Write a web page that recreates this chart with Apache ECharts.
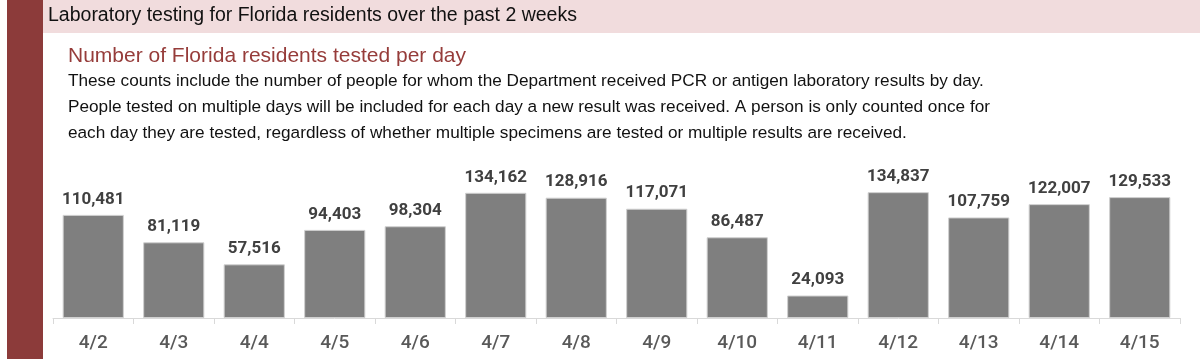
<!DOCTYPE html>
<html><head><meta charset="utf-8">
<script src="https://cdn.jsdelivr.net/npm/echarts@6/dist/echarts.min.js"></script>
<style>html,body{margin:0;padding:0;background:#fff}#c{width:1200px;height:359px}</style>
</head><body><div id="c"></div>
<script>
const categories = ['4/2','4/3','4/4','4/5','4/6','4/7','4/8','4/9','4/10','4/11','4/12','4/13','4/14','4/15'];
const tested = [110481,81119,57516,94403,98304,134162,128916,117071,86487,24093,134837,107759,122007,129533];
const headerText = 'Laboratory testing for Florida residents over the past 2 weeks';
const subtitleText = 'Number of Florida residents tested per day';
const descLines = [
  'These counts include the number of people for whom the Department received PCR or antigen laboratory results by day.',
  'People tested on multiple days will be included for each day a new result was received. A person is only counted once for',
  'each day they are tested, regardless of whether multiple specimens are tested or multiple results are received.'
];
const TXT = '"Liberation Sans",Arial,sans-serif';
const NUM = 'Roboto,"Liberation Sans",sans-serif';
const chart = echarts.init(document.getElementById('c'));
const graphics = [
  {type:'rect', shape:{x:7,y:0,width:36,height:359}, style:{fill:'#8c3b3a'}, z:-1},
  {type:'rect', shape:{x:43,y:0,width:1157,height:33}, style:{fill:'#f1dcdd'}, z:-1},
  {type:'text', left:48, top:6, style:{text:headerText, font:'19.5px '+TXT, fill:'#111'}},
  {type:'text', left:68, top:46, style:{text:subtitleText, font:'21px '+TXT, fill:'#963c3a'}}
];
descLines.forEach((t,i)=>graphics.push({type:'text', left:68, top:73+i*26, style:{text:t, font:'17.2px '+TXT, fill:'#111'}}));
chart.setOption({
  animation:false,
  graphic: graphics,
  grid:{left:53, right:20, top:178, bottom:41},
  xAxis:{type:'category', data:categories,
    axisLine:{lineStyle:{color:'#d9d9d9'}},
    axisTick:{show:true, length:6, lineStyle:{color:'#d9d9d9'}},
    axisLabel:{color:'#595959', fontSize:19, fontWeight:500, fontFamily:NUM, margin:16}},
  yAxis:{type:'value', min:0, max:150000, show:false, splitLine:{show:false}},
  series:[{type:'bar', data:tested, barCategoryGap:'24%',
    itemStyle:{color:'#7f7f7f', borderColor:'#d0d0d0', borderWidth:1},
    label:{show:true, position:'top', distance:7, color:'#404040', fontSize:17, fontWeight:'bold', fontFamily:NUM,
      formatter:p=>p.value.toLocaleString('en-US')}}]
});
</script></body></html>
